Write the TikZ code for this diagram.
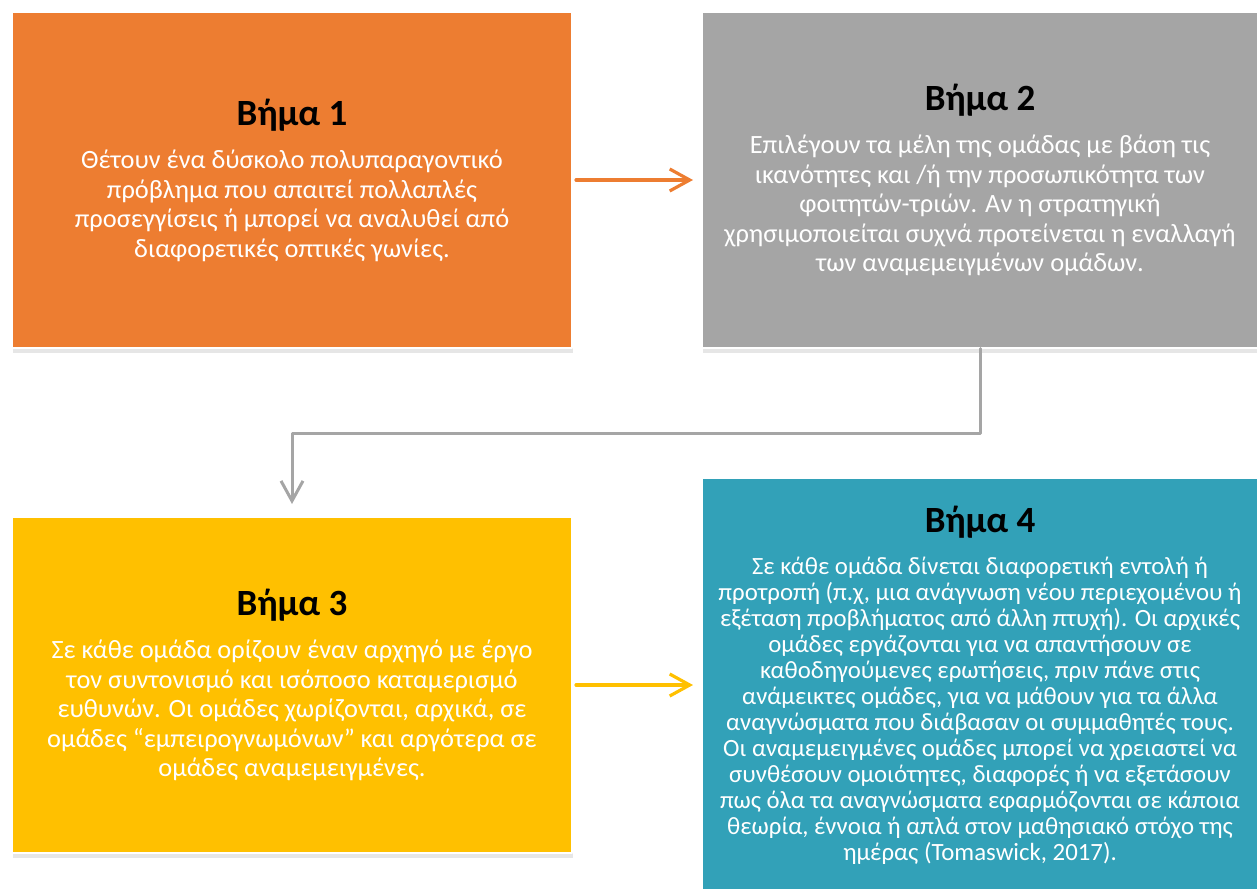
\documentclass[tikz,border=0pt]{standalone}
\usepackage{fontspec}
\setmainfont{Carlito}
\usetikzlibrary{arrows.meta,shadows}
\definecolor{orangeS}{HTML}{ED7D31}
\definecolor{grayS}{HTML}{A5A5A5}
\definecolor{yellowS}{HTML}{FFC000}
\definecolor{tealS}{HTML}{32A1B8}
\newcommand{\steptitle}[1]{\textcolor{black}{\fontsize{18.5}{20}\selectfont\bfseries #1}}
\begin{document}
\begin{tikzpicture}[x=0.5pt,y=-0.5pt, line join = round, line cap = round,
	stepbox/.style={draw=white, line width=1pt, text=white, align=center, inner sep=0pt,
		font=\fontsize{13.2}{14.75}\selectfont,
		drop shadow={shadow xshift=0.5pt, shadow yshift=-2.5pt, opacity=.2}},
	flow/.style={-{Straight Barb[length=10pt,width=11pt]}, line width=1.6pt}]
	\useasboundingbox (0,0) rectangle (1257,888);
	\coordinate (P1) at (292,180);
	\coordinate (P2) at (980,180);
	\coordinate (P3) at (292,685);
	\coordinate (P4) at (980,685);
	
	\node[stepbox, fill=orangeS, minimum width=280pt, minimum height=167.5pt] (S1) at (P1)
		{\steptitle{Βήμα 1}\\[7pt]
		Θέτουν ένα δύσκολο πολυπαραγοντικό\\πρόβλημα που απαιτεί πολλαπλές\\
		προσεγγίσεις ή μπορεί να αναλυθεί από\\διαφορετικές οπτικές γωνίες.};
	\node[stepbox, fill=grayS, minimum width=278pt, minimum height=167.5pt] (S2) at (P2)
		{\steptitle{Βήμα 2}\\[7pt]
		Επιλέγουν τα μέλη της ομάδας με βάση τις\\ικανότητες και /ή την προσωπικότητα των\\
		φοιτητών-τριών. Αν η στρατηγική\\χρησιμοποιείται συχνά προτείνεται η εναλλαγή\\
		των αναμεμειγμένων ομάδων.};
	\node[stepbox, fill=yellowS, minimum width=280pt, minimum height=168pt] (S3) at (P3)
		{\steptitle{Βήμα 3}\\[7pt]
		Σε κάθε ομάδα ορίζουν έναν αρχηγό με έργο\\τον συντονισμό και ισόποσο καταμερισμό\\
		ευθυνών. Οι ομάδες χωρίζονται, αρχικά, σε\\ομάδες “εμπειρογνωμόνων” και αργότερα σε\\
		ομάδες αναμεμειγμένες.};
	\node[stepbox, fill=tealS, minimum width=278pt, minimum height=207pt,
		font=\fontsize{12.4}{13}\selectfont] (S4) at (P4)
		{\steptitle{Βήμα 4}\\[8pt]
		Σε κάθε ομάδα δίνεται διαφορετική εντολή ή\\
		προτροπή (π.χ, μια ανάγνωση νέου περιεχομένου ή\\
		εξέταση προβλήματος από άλλη πτυχή). Οι αρχικές\\
		ομάδες εργάζονται για να απαντήσουν σε\\
		καθοδηγούμενες ερωτήσεις, πριν πάνε στις\\
		ανάμεικτες ομάδες, για να μάθουν για τα άλλα\\
		αναγνώσματα που διάβασαν οι συμμαθητές τους.\\
		Οι αναμεμειγμένες ομάδες μπορεί να χρειαστεί να\\
		συνθέσουν ομοιότητες, διαφορές ή να εξετάσουν\\
		πως όλα τα αναγνώσματα εφαρμόζονται σε κάποια\\
		θεωρία, έννοια ή απλά στον μαθησιακό στόχο της\\
		ημέρας (Tomaswick, 2017).};
	
	\draw[flow, orangeS, shorten <=1.5pt, shorten >=4pt] (S1.east) -- (S2.west);
	\draw[flow, grayS, line width=1.5pt, shorten >=6pt] (S2.south) -- ++(0,85) -| (S3.north);
	\draw[flow, yellowS, shorten <=1.5pt, shorten >=4pt] (S3.east) -- (S4.west);
	
\end{tikzpicture}
\end{document}
